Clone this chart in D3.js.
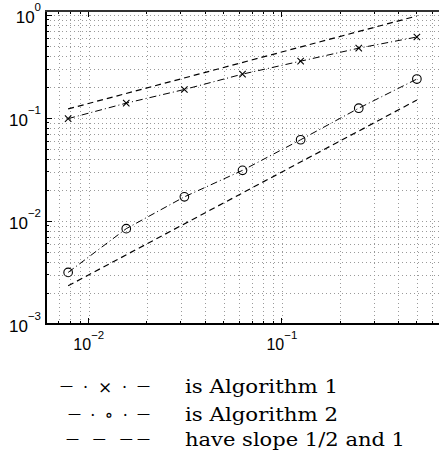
<!DOCTYPE html>
<html><head><meta charset="utf-8">
<script src="https://cdn.jsdelivr.net/npm/d3@7"></script>
<style>body{margin:0;background:#fff}svg{display:block}</style>
</head><body>
<script>
const hValues = [0.0078125, 0.015625, 0.03125, 0.0625, 0.125, 0.25, 0.5];
const alg1Values = [0.099, 0.14, 0.19, 0.268, 0.358, 0.479, 0.615];
const alg2Values = [0.00317, 0.00844, 0.0172, 0.0311, 0.0617, 0.125, 0.24];
const slopeHalfValues = [0.123, 0.984];   // at first and last h
const slopeOneValues = [0.00235, 0.150];  // at first and last h
const xTickExps = [-2, -1];
const yTickExps = [0, -1, -2, -3];
const legendSymbols = ["\u2014 \u00b7 \u00d7 \u00b7 \u2014", "\u2014 \u00b7 \u2218 \u00b7 \u2014", "\u2014 \u2014 \u2014\u2014"];
const legendLabels = ["is Algorithm 1", "is Algorithm 2", "have slope 1/2 and 1"];

const W = 439, H = 457;
const svg = d3.select("body").append("svg").attr("width", W).attr("height", H);
svg.append("rect").attr("width", W).attr("height", H).attr("fill", "#fff");

const x = d3.scaleLog().domain([0.006, 1]).range([46, 475]);
const y = d3.scaleLog().domain([1e-3, 1.1]).range([324, 11]);
const [x0, x1] = x.range(), [yb, yt] = y.range();

const g = svg.append("g");
// grid
const gridX = [], gridY = [];
for (let e = -3; e <= 0; e++) for (let k = 1; k <= 9; k++) {
  const v = k * Math.pow(10, e);
  if (v > x.domain()[0] && v < x.domain()[1]) gridX.push(v);
  if (v > y.domain()[0] && v <= y.domain()[1]) gridY.push(v);
}
const gridCol = "#9a9a9a";
g.selectAll(".gx").data(gridX).join("line")
  .attr("x1", d => Math.round(x(d)) + 0.5).attr("x2", d => Math.round(x(d)) + 0.5).attr("y1", yb).attr("y2", yt)
  .attr("stroke", gridCol).attr("stroke-width", 1).attr("stroke-dasharray", "1,3");
g.selectAll(".gy").data(gridY).join("line")
  .attr("y1", d => Math.round(y(d)) + 0.5).attr("y2", d => Math.round(y(d)) + 0.5).attr("x1", x0).attr("x2", x1)
  .attr("stroke", gridCol).attr("stroke-width", 1).attr("stroke-dasharray", "1,3");

// ticks inward
const isMajor = v => Math.abs(Math.log10(v) - Math.round(Math.log10(v))) < 1e-9;
g.selectAll(".tx").data(gridX).join("line")
  .attr("x1", d => x(d)).attr("x2", d => x(d)).attr("y1", yb).attr("y2", d => yb - (isMajor(d) ? 6 : 3))
  .attr("stroke", "#000").attr("shape-rendering", "crispEdges");
g.selectAll(".txt").data(gridX).join("line")
  .attr("x1", d => x(d)).attr("x2", d => x(d)).attr("y1", yt).attr("y2", d => yt + (isMajor(d) ? 6 : 3))
  .attr("stroke", "#000").attr("shape-rendering", "crispEdges");
g.selectAll(".ty").data(gridY).join("line")
  .attr("y1", d => y(d)).attr("y2", d => y(d)).attr("x1", x0).attr("x2", d => x0 + (isMajor(d) ? 6 : 3))
  .attr("stroke", "#000").attr("shape-rendering", "crispEdges");

// axes box
g.append("line").attr("x1", x0).attr("x2", x0).attr("y1", yb).attr("y2", yt).attr("stroke", "#000").attr("stroke-width", 2);
g.append("line").attr("x1", x0 - 1).attr("x2", W).attr("y1", yb).attr("y2", yb).attr("stroke", "#000").attr("stroke-width", 2);
g.append("line").attr("x1", x0 - 1).attr("x2", W).attr("y1", yt).attr("y2", yt).attr("stroke", "#333").attr("stroke-width", 2);

// series
const line = d3.line().x(d => x(d[0])).y(d => y(d[1]));
const ends = [hValues[0], hValues[hValues.length - 1]];
g.append("path").attr("d", line(ends.map((h, i) => [h, slopeHalfValues[i]])))
  .attr("fill", "none").attr("stroke", "#000").attr("stroke-width", 1.2).attr("stroke-dasharray", "6,4");
g.append("path").attr("d", line(ends.map((h, i) => [h, slopeOneValues[i]])))
  .attr("fill", "none").attr("stroke", "#000").attr("stroke-width", 1.2).attr("stroke-dasharray", "6,4");
g.append("path").attr("d", line(hValues.map((h, i) => [h, alg1Values[i]])))
  .attr("fill", "none").attr("stroke", "#000").attr("stroke-width", 1).attr("stroke-dasharray", "7,3,1,3");
g.append("path").attr("d", line(hValues.map((h, i) => [h, alg2Values[i]])))
  .attr("fill", "none").attr("stroke", "#000").attr("stroke-width", 1).attr("stroke-dasharray", "7,3,1,3");

g.selectAll(".cross").data(hValues.map((h, i) => [h, alg1Values[i]])).join("path")
  .attr("d", d => { const cx = x(d[0]), cy = y(d[1]), s = 3.2; return `M${cx - s},${cy - s}L${cx + s},${cy + s}M${cx - s},${cy + s}L${cx + s},${cy - s}`; })
  .attr("stroke", "#000").attr("stroke-width", 1.1).attr("fill", "none");
g.selectAll(".circ").data(hValues.map((h, i) => [h, alg2Values[i]])).join("circle")
  .attr("cx", d => x(d[0])).attr("cy", d => y(d[1])).attr("r", 4.3)
  .attr("stroke", "#000").attr("stroke-width", 1.1).attr("fill", "none");

// tick labels
const font = "Liberation Sans, Arial, sans-serif";
yTickExps.forEach(e => {
  const t = svg.append("text").attr("x", 41).attr("y", y(Math.pow(10, e)) + 7.5)
    .attr("text-anchor", "end").attr("font-family", font).attr("font-size", 17).attr("fill", "#000");
  t.append("tspan").text("10");
  t.append("tspan").attr("font-size", 11.5).attr("dy", -12).text(e === 0 ? "0" : "\u2212" + (-e));
});
xTickExps.forEach(e => {
  const t = svg.append("text").attr("x", x(Math.pow(10, e)) - 15.5).attr("y", 349.5)
    .attr("text-anchor", "start").attr("font-family", font).attr("font-size", 16).attr("fill", "#000");
  t.append("tspan").text("10");
  t.append("tspan").attr("font-size", 11.5).attr("dy", -10.5).text("\u2212" + (-e));
});

// legend
const serif = "'DejaVu Serif', 'Liberation Serif', serif";
const rowY = [392.5, 420.5, 446];
const symStart = [60, 68, 66], symEnd = 150;
const labelWidths = [153, 153, 220];
legendSymbols.forEach((s, i) => {
  const t = svg.append("text").attr("x", symStart[i]).attr("y", rowY[i])
    .attr("font-family", serif).attr("font-size", 16).attr("fill", "#000")
    .attr("textLength", symEnd - symStart[i]).attr("lengthAdjust", "spacing");
  let raised = false;
  Array.from(s).forEach(ch => {
    const isDash = ch === "\u2014";
    const sz = isDash ? 13 : (ch === "\u00d7" ? 17 : (ch === "\u2218" ? 18 : 16));
    const dy = isDash && !raised ? -3 : (!isDash && raised ? 3 : 0);
    raised = isDash;
    t.append("tspan").attr("font-size", sz).attr("dy", dy).text(ch);
  });
  svg.append("text").attr("x", 185).attr("y", rowY[i])
    .attr("font-family", serif).attr("font-size", 18.5).attr("fill", "#000")
    .attr("textLength", labelWidths[i]).attr("lengthAdjust", "spacingAndGlyphs").text(legendLabels[i]);
});
</script>
</body></html>
